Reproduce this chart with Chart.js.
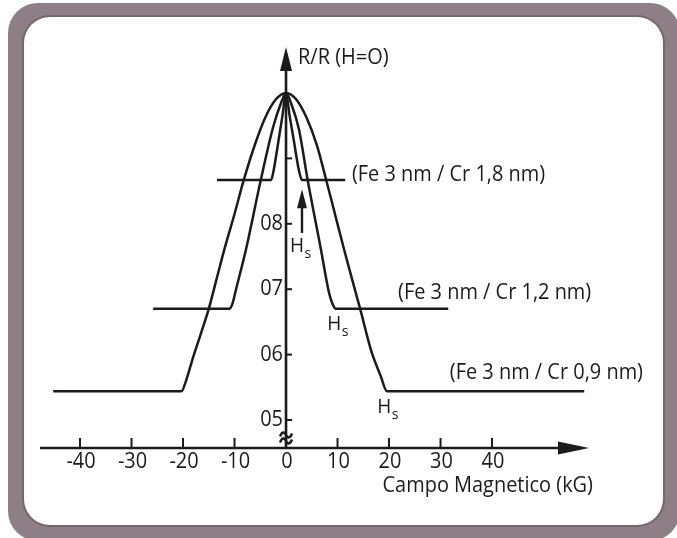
<!DOCTYPE html>
<html>
<head>
<meta charset="utf-8">
<script src="https://cdn.jsdelivr.net/npm/chart.js@4.4.1/dist/chart.umd.min.js"></script>
<style>
  html, body { margin: 0; padding: 0; background: #fff; }
  body { width: 677px; height: 538px; position: relative; overflow: hidden; }
  .frame { position: absolute; left: 8px; top: 3px; width: 672px; height: 538px; background: #8e7e85; border-radius: 30px; }
  .panel { position: absolute; left: 24px; top: 17px; width: 639px; height: 508px; background: #fff; border-radius: 26px; box-shadow: 0 0 0 2px #76666d; }
  .plot { position: absolute; left: 0; top: 0; width: 677px; height: 538px; }
</style>
</head>
<body>
<div class="frame"></div>
<div class="panel"></div>
<div class="plot"><canvas id="gmrChart"></canvas></div>
<script>
// Magnetoresistance curves of Fe/Cr multilayers, R/R(H=0) vs field in kG
const cr09Field = [-45.2, -20.3, -19.5, -18, -16.5, -15, -13.5, -12, -10, -8.2, -6, -4, -2, 0,
                   2, 4, 6, 7.8, 9.5, 11.3, 12.9, 14.4, 16.5, 18.4, 19.6, 57.9];
const cr09Ratio = [0.544, 0.544, 0.558, 0.597, 0.633, 0.67, 0.715, 0.76, 0.815, 0.867, 0.922, 0.963, 0.99, 1.0,
                   0.99, 0.962, 0.92, 0.867, 0.815, 0.76, 0.713, 0.67, 0.607, 0.567, 0.544, 0.544];

const cr12Field = [-25.8, -11, -10.4, -9.7, -7.8, -4.9, -2.5, -1, 0, 1, 2.5, 4.2, 6.8, 8.2, 9.0, 9.7, 31.5];
const cr12Ratio = [0.67, 0.67, 0.678, 0.70, 0.76, 0.867, 0.948, 0.984, 1.0, 0.984, 0.945, 0.867, 0.76, 0.70, 0.678, 0.67, 0.67];

const cr18Field = [-13.4, -2.9, -2.4, -1.5, -0.7, 0, 0.7, 1.5, 2.5, 3.1, 11.5];
const cr18Ratio = [0.867, 0.867, 0.882, 0.925, 0.965, 1.0, 0.965, 0.928, 0.882, 0.867, 0.867];

const seriesLabels = ['(Fe 3 nm / Cr 0,9 nm)', '(Fe 3 nm / Cr 1,2 nm)', '(Fe 3 nm / Cr 1,8 nm)'];

const xTicks = [-40, -30, -20, -10, 0, 10, 20, 30, 40];
const xTickLabels = ['-40', '-30', '-20', '-10', '0', '10', '20', '30', '40'];
const yTicks = [0.5, 0.6, 0.7, 0.8, 0.9];
const yTickLabels = ['05', '06', '07', '08', ''];

const yTitle = 'R/R (H=O)';
const xTitle = 'Campo Magnetico (kG)';

const ink = '#1c1a1b';
const fontFamily = '"Open Sans", "Liberation Sans", sans-serif';
const squeeze = 0.95; // the original lettering is a bit narrower than Open Sans

// where the annotations sit, in data units (kG, R)
const labelAnchors = [[31.8, 0.572], [21.75, 0.694], [12.8, 0.875]];
const hsAnchors = [[17.7, 0.511], [8.0, 0.638], [0.75, 0.757]];
const hsArrow = { field: 3.1, from: 0.786, to: 0.853 };

const toPoints = (xs, ys) => xs.map((v, i) => ({ x: v, y: ys[i] }));

const curve = (pts) => ({
    data: pts,
    borderColor: ink,
    borderWidth: 2.5,
    pointRadius: 0,
    fill: false,
    cubicInterpolationMode: 'monotone',
    clip: false
});

function text(ctx, str, px, py, align) {
    ctx.save();
    ctx.translate(px, py);
    ctx.scale(squeeze, 1);
    ctx.textAlign = align;
    ctx.fillText(str, 0, 0);
    ctx.restore();
}

const axisDecor = {
    id: 'axisDecor',
    afterDatasetsDraw(chart) {
        const { ctx, chartArea: a, scales: { x, y } } = chart;
        const x0 = x.getPixelForValue(0);
        const yBase = a.bottom;
        ctx.save();
        ctx.strokeStyle = ink;
        ctx.fillStyle = ink;
        ctx.lineWidth = 2.6;

        // horizontal axis + arrow
        ctx.beginPath();
        ctx.moveTo(a.left, yBase);
        ctx.lineTo(a.right - 20, yBase);
        ctx.stroke();
        ctx.beginPath();
        ctx.moveTo(a.right, yBase);
        ctx.lineTo(a.right - 31, yBase - 6.5);
        ctx.lineTo(a.right - 31, yBase + 6.5);
        ctx.closePath();
        ctx.fill();

        // vertical axis + arrow
        ctx.beginPath();
        ctx.moveTo(x0, yBase);
        ctx.lineTo(x0, a.top + 18);
        ctx.stroke();
        ctx.beginPath();
        ctx.moveTo(x0, a.top);
        ctx.lineTo(x0 - 6, a.top + 24);
        ctx.lineTo(x0 + 6, a.top + 24);
        ctx.closePath();
        ctx.fill();

        // axis break
        ctx.lineWidth = 2.4;
        [yBase - 13, yBase - 7].forEach(yy => {
            ctx.beginPath();
            ctx.moveTo(x0 - 6, yy + 1.5);
            ctx.bezierCurveTo(x0 - 4, yy - 4, x0 - 1, yy - 3, x0, yy);
            ctx.bezierCurveTo(x0 + 1, yy + 3, x0 + 4, yy + 4, x0 + 6, yy - 1.5);
            ctx.stroke();
        });

        ctx.font = '21px ' + fontFamily;
        ctx.textBaseline = 'middle';
        ctx.lineWidth = 2;

        // x ticks
        xTicks.forEach((v, i) => {
            const px = x.getPixelForValue(v);
            ctx.beginPath();
            ctx.moveTo(px, yBase);
            ctx.lineTo(px, yBase - 10);
            ctx.stroke();
            text(ctx, xTickLabels[i], px + 1, yBase + 14, 'center');
        });

        // y ticks
        yTicks.forEach((v, i) => {
            const py = y.getPixelForValue(v);
            ctx.beginPath();
            ctx.moveTo(x0, py);
            ctx.lineTo(x0 + 6, py);
            ctx.stroke();
            if (yTickLabels[i]) text(ctx, yTickLabels[i], x0 - 3, py, 'right');
        });

        // axis titles
        text(ctx, yTitle, x0 + 12, a.top + 11, 'left');
        text(ctx, xTitle, a.right + 4, yBase + 38, 'right');

        // series labels
        seriesLabels.forEach((t, i) => {
            const [fx, fy] = labelAnchors[i];
            text(ctx, t, x.getPixelForValue(fx), y.getPixelForValue(fy), 'left');
        });

        // H_s marks
        ctx.textBaseline = 'alphabetic';
        hsAnchors.forEach(([fx, fy]) => {
            const px = x.getPixelForValue(fx);
            const py = y.getPixelForValue(fy);
            ctx.font = '20px ' + fontFamily;
            text(ctx, 'H', px, py, 'left');
            const w = ctx.measureText('H').width * squeeze;
            ctx.font = '15px ' + fontFamily;
            text(ctx, 's', px + w + 0.5, py + 6, 'left');
        });

        // arrow pointing at H_s of the 1.8 nm sample
        const ax = x.getPixelForValue(hsArrow.field);
        const aFrom = y.getPixelForValue(hsArrow.from);
        const aTo = y.getPixelForValue(hsArrow.to);
        ctx.lineWidth = 2.4;
        ctx.beginPath();
        ctx.moveTo(ax, aFrom);
        ctx.lineTo(ax, aTo + 10);
        ctx.stroke();
        ctx.beginPath();
        ctx.moveTo(ax, aTo);
        ctx.lineTo(ax - 5, aTo + 19);
        ctx.lineTo(ax + 5, aTo + 19);
        ctx.closePath();
        ctx.fill();

        ctx.restore();
    }
};

new Chart(document.getElementById('gmrChart'), {
    type: 'line',
    data: {
        datasets: [
            curve(toPoints(cr09Field, cr09Ratio)),
            curve(toPoints(cr12Field, cr12Ratio)),
            curve(toPoints(cr18Field, cr18Ratio))
        ]
    },
    options: {
        responsive: true,
        maintainAspectRatio: false,
        animation: false,
        layout: { padding: { left: 40, right: 88, top: 47, bottom: 90 } },
        scales: {
            x: { type: 'linear', min: -47.77, max: 58.83, display: false },
            y: { type: 'linear', min: 0.4572, max: 1.0703, display: false }
        },
        plugins: { legend: { display: false }, tooltip: { enabled: false } }
    },
    plugins: [axisDecor]
});
</script>
</body>
</html>
